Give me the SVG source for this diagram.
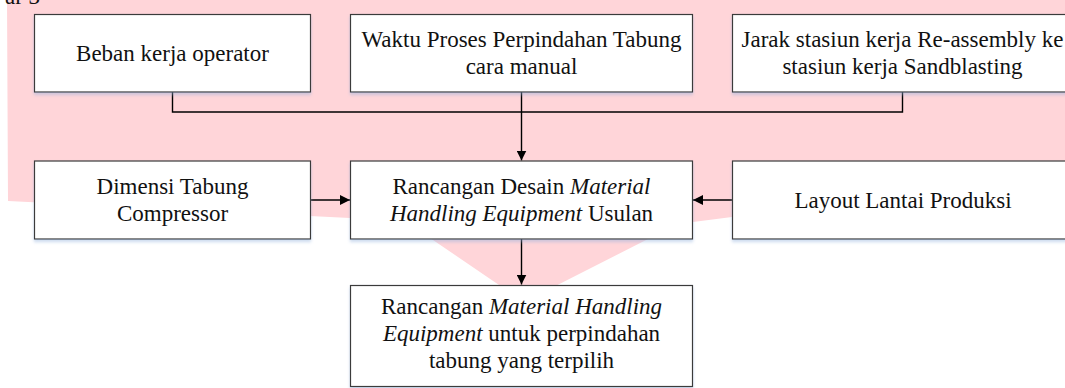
<svg xmlns="http://www.w3.org/2000/svg" width="1065" height="388" viewBox="0 0 1065 388">
<style>
.box{fill:#fff;stroke:#3a3a3a;stroke-width:1.2;filter:url(#sh)}
.t{font-family:"Liberation Serif","Times New Roman",serif;font-size:23px;fill:#111;text-anchor:middle}
.i{font-style:italic}
.c{fill:none;stroke:#000;stroke-width:1.4}
</style>
<defs>
<filter id="sh" x="-5%" y="-10%" width="110%" height="130%">
<feDropShadow dx="0" dy="2.5" stdDeviation="1.8" flood-color="#8fb0dc" flood-opacity="0.45"/>
</filter>
<marker id="ah" markerUnits="userSpaceOnUse" markerWidth="10" markerHeight="10" viewBox="0 0 10 10" refX="10" refY="5" orient="auto">
<path d="M0,0 L10,5 L0,10 Z" fill="#000"/>
</marker>
</defs>
<path id="watermark" d="M7,0 H1065 V217 L732,217 L693,222 L650,238 L524,302 L433,240 L400,222 L350,218 L8,201 Z" fill="#FFD5D9"/>
<text x="5" y="4" class="t" style="text-anchor:start">ar 3</text>
<g id="connectors">
<path class="c" d="M172.5,92 V112 H902.5 V92"/>
<path class="c" d="M521.5,92 V160.5" marker-end="url(#ah)"/>
<path class="c" d="M311,200 H350" marker-end="url(#ah)"/>
<path class="c" d="M732,200 H693" marker-end="url(#ah)"/>
<path class="c" d="M521.5,239 V284.5" marker-end="url(#ah)"/>
</g>
<g id="n1"><rect class="box" x="34.5" y="14.5" width="276" height="77.5"/>
<text class="t" x="172.5" y="61">Beban kerja operator</text></g>
<g id="n2"><rect class="box" x="350.5" y="14.5" width="342" height="77.5"/>
<text class="t" x="521.5" y="47">Waktu Proses Perpindahan Tabung</text>
<text class="t" x="521.5" y="73.5">cara manual</text></g>
<g id="n3"><rect class="box" x="732.5" y="14.5" width="341" height="77.5"/>
<text class="t" x="902.5" y="47">Jarak stasiun kerja Re-assembly ke</text>
<text class="t" x="902.5" y="73.5">stasiun kerja Sandblasting</text></g>
<g id="n4"><rect class="box" x="34.5" y="161" width="276" height="78"/>
<text class="t" x="172.5" y="193.5">Dimensi Tabung</text>
<text class="t" x="172.5" y="220.5">Compressor</text></g>
<g id="n5"><rect class="box" x="350.5" y="161" width="342" height="78"/>
<text class="t" x="521.5" y="193.5">Rancangan Desain <tspan class="i">Material</tspan></text>
<text class="t" x="521.5" y="220.5"><tspan class="i">Handling Equipment</tspan> Usulan</text></g>
<g id="n6"><rect class="box" x="732.5" y="161" width="341" height="78"/>
<text class="t" x="903" y="208">Layout Lantai Produksi</text></g>
<g id="n7"><rect class="box" x="350.5" y="285.5" width="342" height="101"/>
<text class="t" x="521.5" y="314">Rancangan <tspan class="i">Material Handling</tspan></text>
<text class="t" x="521.5" y="341"><tspan class="i">Equipment</tspan> untuk perpindahan</text>
<text class="t" x="521.5" y="368">tabung yang terpilih</text></g>
</svg>
